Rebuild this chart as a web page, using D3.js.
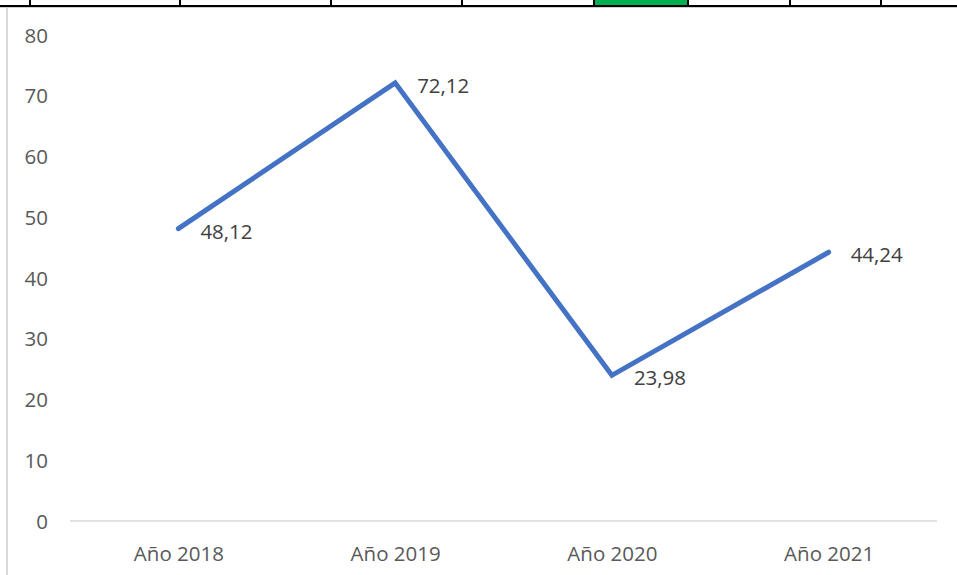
<!DOCTYPE html>
<html>
<head>
<meta charset="utf-8">
<script src="https://cdn.jsdelivr.net/npm/d3@7/dist/d3.min.js"></script>
<style>
  html, body { margin: 0; padding: 0; background: #ffffff; }
  svg { display: block; }
  text { font-family: "Open Sans", "Liberation Sans", sans-serif; fill: #595959; }
</style>
</head>
<body>
<svg id="chart" width="957" height="575"></svg>
<script>
const categories = ["Año 2018", "Año 2019", "Año 2020", "Año 2021"];
const values = [48.12, 72.12, 23.98, 44.24];
const valueLabels = ["48,12", "72,12", "23,98", "44,24"];
const yTicks = [0, 10, 20, 30, 40, 50, 60, 70, 80];
const headerTicks = [30, 180, 331, 462, 594, 688, 790, 881];

const svg = d3.select("#chart");
const W = 957, H = 575;
const margin = { left: 70, right: 20, top: 35, bottom: 54 };
const FS = 20.5;

// spreadsheet header remnants
svg.append("rect").attr("x", 594).attr("y", 0).attr("width", 94).attr("height", 5).attr("fill", "#00b050");
svg.selectAll("line.hdr").data(headerTicks).join("line")
  .attr("x1", d => d).attr("x2", d => d).attr("y1", 0).attr("y2", 6)
  .attr("stroke", "#000").attr("stroke-width", 2);
svg.append("line").attr("x1", 0).attr("x2", W).attr("y1", 7.5).attr("y2", 7.5)
  .attr("stroke", "#d0d0d0").attr("stroke-width", 1);
svg.append("line").attr("x1", 0).attr("x2", W).attr("y1", 6).attr("y2", 6)
  .attr("stroke", "#000").attr("stroke-width", 2);
// chart area left border
svg.append("line").attr("x1", 7).attr("x2", 7).attr("y1", 8).attr("y2", H)
  .attr("stroke", "#d9d9d9").attr("stroke-width", 2);

const x = d3.scalePoint().domain(categories).range([margin.left, W - margin.right]).padding(0.5);
const y = d3.scaleLinear().domain([0, 80]).range([H - margin.bottom, margin.top]);

// y axis labels
const yAxis = d3.axisLeft(y).tickValues(yTicks).tickSize(0).tickPadding(0);
const gy = svg.append("g").attr("transform", "translate(48,0)").call(yAxis);
gy.select(".domain").remove();
gy.selectAll("text").attr("font-size", FS).style("font-family", "Open Sans").attr("fill", "#595959").attr("dy", "0.35em");

// x axis
const xAxis = d3.axisBottom(x).tickSize(0).tickPadding(0);
const gx = svg.append("g").attr("transform", `translate(0,${y(0)})`).call(xAxis);
gx.select(".domain").remove();
gx.selectAll("text").attr("font-size", FS).style("font-family", "Open Sans").attr("fill", "#595959").attr("dy", "0").attr("y", 40);
svg.append("line").attr("x1", margin.left).attr("x2", W - margin.right)
  .attr("y1", y(0)).attr("y2", y(0)).attr("stroke", "#d9d9d9").attr("stroke-width", 1.5);

// line
const line = d3.line().x((d, i) => x(categories[i])).y(d => y(d));
svg.append("path").datum(values).attr("d", line)
  .attr("fill", "none").attr("stroke", "#4472c4").attr("stroke-width", 5)
  .attr("stroke-linecap", "round").attr("stroke-linejoin", "miter");

// data labels
svg.selectAll("text.lbl").data(values).join("text")
  .attr("class", "lbl")
  .attr("x", (d, i) => x(categories[i]) + 22)
  .attr("y", d => y(d) + 3)
  .attr("dy", "0.35em")
  .attr("font-size", FS)
  .style("fill", "#404040")
  .text((d, i) => valueLabels[i]);
</script>
</body>
</html>
